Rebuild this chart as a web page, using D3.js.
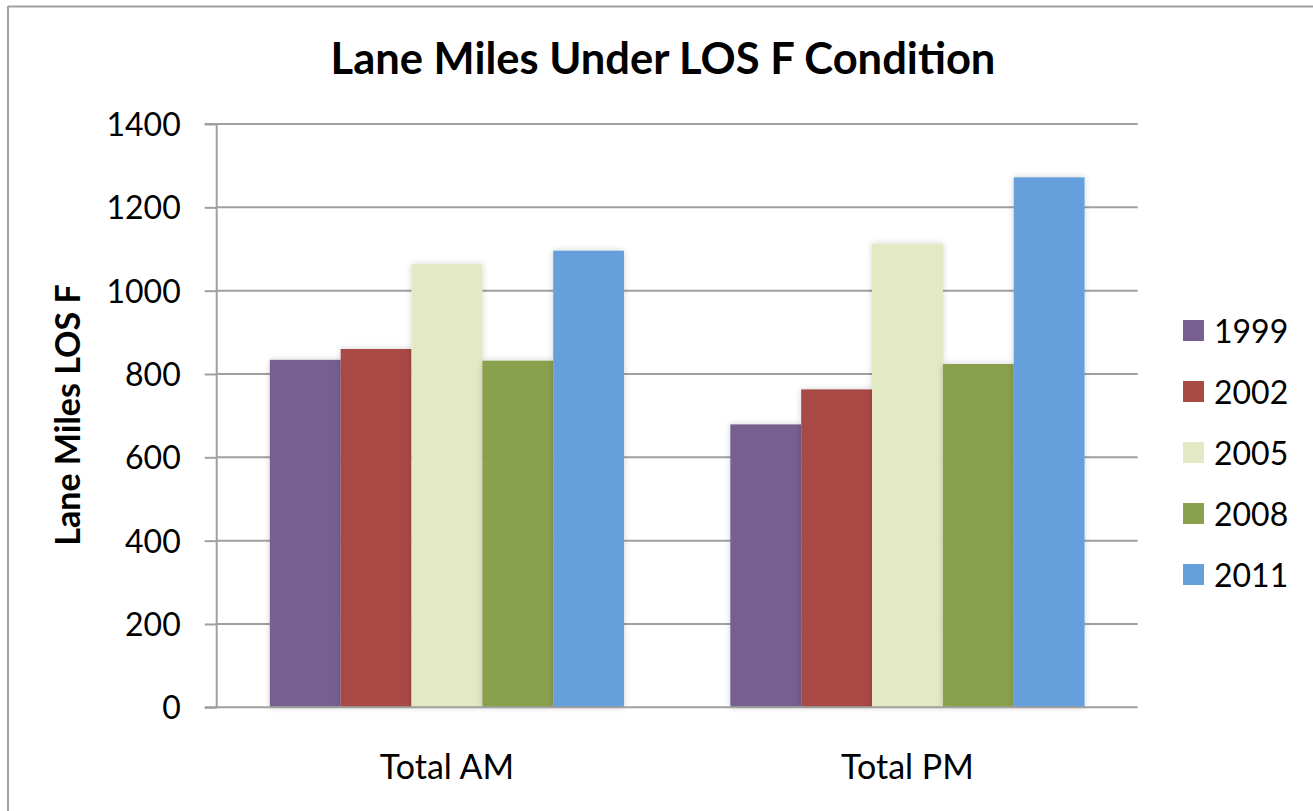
<!DOCTYPE html>
<html>
<head>
<meta charset="utf-8">
<script src="https://cdn.jsdelivr.net/npm/d3@7"></script>
<style>
  html, body { margin: 0; padding: 0; background: #fff; }
  svg { display: block; font-family: Lato, "Open Sans", sans-serif; }
</style>
</head>
<body>
<svg id="chart" width="1313" height="811"></svg>
<script>
// Lane miles under LOS F, by peak period and survey year
const categories = ["Total AM", "Total PM"];
const years = ["1999", "2002", "2005", "2008", "2011"];
const values1999 = [834, 679];
const values2002 = [860, 763];
const values2005 = [1064, 1113];
const values2008 = [832, 824];
const values2011 = [1096, 1272];
const yTicks = [0, 200, 400, 600, 800, 1000, 1200, 1400];
const colors = ["#775f90", "#a84a44", "#e3e9c5", "#89a04d", "#66a0dc"];

const seriesValues = [values1999, values2002, values2005, values2008, values2011];
const rows = [];
categories.forEach((c, ci) => {
  years.forEach((yr, si) => rows.push({ cat: c, year: yr, value: seriesValues[si][ci], color: colors[si] }));
});

const svg = d3.select("#chart");

// soft shadow behind the bars
const defs = svg.append("defs");
const f = defs.append("filter").attr("id", "shadow")
  .attr("x", "-20%").attr("y", "-20%").attr("width", "140%").attr("height", "140%");
f.append("feDropShadow").attr("dx", 0).attr("dy", 0).attr("stdDeviation", 3)
  .attr("flood-color", "#000").attr("flood-opacity", 0.18);

// outer frame (top and left edges)
svg.append("line").attr("x1", 8).attr("x2", 1313).attr("y1", 6.5).attr("y2", 6.5)
  .attr("stroke", "#a0a0a0").attr("stroke-width", 2);
svg.append("line").attr("x1", 8).attr("x2", 8).attr("y1", 6).attr("y2", 811)
  .attr("stroke", "#a0a0a0").attr("stroke-width", 2);

const plot = { left: 216.7, right: 1137.7, top: 124, bottom: 707.3 };

const x0 = d3.scaleBand().domain(categories).range([plot.left, plot.right]).paddingInner(0).paddingOuter(0);
const groupW = x0.bandwidth();
const barW = groupW / (years.length + 1.5);
const x1 = d3.scaleBand().domain(years).range([0, barW * years.length]);
const groupOffset = (groupW - barW * years.length) / 2;

const y = d3.scaleLinear().domain([0, 1400]).range([plot.bottom, plot.top]);

// horizontal gridlines
svg.append("g").selectAll("line").data(yTicks.filter(t => t > 0)).join("line")
  .attr("x1", plot.left).attr("x2", plot.right)
  .attr("y1", d => y(d)).attr("y2", d => y(d))
  .attr("stroke", "#a0a0a0").attr("stroke-width", 2);

// bars
svg.append("g").selectAll("rect").data(rows).join("rect")
  .attr("x", d => x0(d.cat) + groupOffset + x1(d.year))
  .attr("y", d => y(d.value))
  .attr("width", x1.bandwidth())
  .attr("height", d => y(0) - y(d.value))
  .attr("fill", d => d.color)
  .attr("filter", "url(#shadow)");

// y axis
const yAxis = d3.axisLeft(y).tickValues(yTicks).tickSize(12).tickPadding(24).tickFormat(d3.format("d"));
const yg = svg.append("g").attr("transform", `translate(${plot.left},0)`).call(yAxis);
yg.select(".domain").attr("stroke", "#a0a0a0").attr("stroke-width", 2).attr("d", `M-12,${plot.top}H0V${plot.bottom}`);
yg.selectAll(".tick line").attr("stroke", "#a0a0a0").attr("stroke-width", 2);
yg.selectAll(".tick text").attr("font-size", 32).attr("fill", "#000")
  .attr("font-family", "Lato, sans-serif").attr("dy", "0.36em");

// x axis baseline and category labels
const xAxis = d3.axisBottom(x0).tickSize(0).tickPadding(48);
const xg = svg.append("g").attr("transform", `translate(0,${plot.bottom})`).call(xAxis);
xg.select(".domain").attr("stroke", "#a0a0a0").attr("stroke-width", 2).attr("d", `M${plot.left - 12},0H${plot.right}`);
xg.selectAll(".tick text").attr("font-size", 34).attr("fill", "#000").attr("font-family", "Lato, sans-serif");

// title
svg.append("text").attr("x", 663).attr("y", 74).attr("text-anchor", "middle")
  .attr("font-size", 43.5).attr("font-weight", "bold").attr("fill", "#000")
  .text("Lane Miles Under LOS F Condition");

// y axis title
svg.append("text").attr("transform", "translate(80,415) rotate(-90)").attr("text-anchor", "middle")
  .attr("font-size", 34).attr("font-weight", "bold").attr("fill", "#000")
  .text("Lane Miles LOS F");

// legend
const legend = svg.append("g").attr("transform", "translate(1183,320)");
const items = legend.selectAll("g").data(years).join("g")
  .attr("transform", (d, i) => `translate(0,${i * 61})`);
items.append("rect").attr("width", 21).attr("height", 21).attr("fill", (d, i) => colors[i]);
items.append("text").attr("x", 31).attr("y", 11).attr("dy", "0.36em")
  .attr("font-size", 32).attr("fill", "#000").text(d => d);
</script>
</body>
</html>
